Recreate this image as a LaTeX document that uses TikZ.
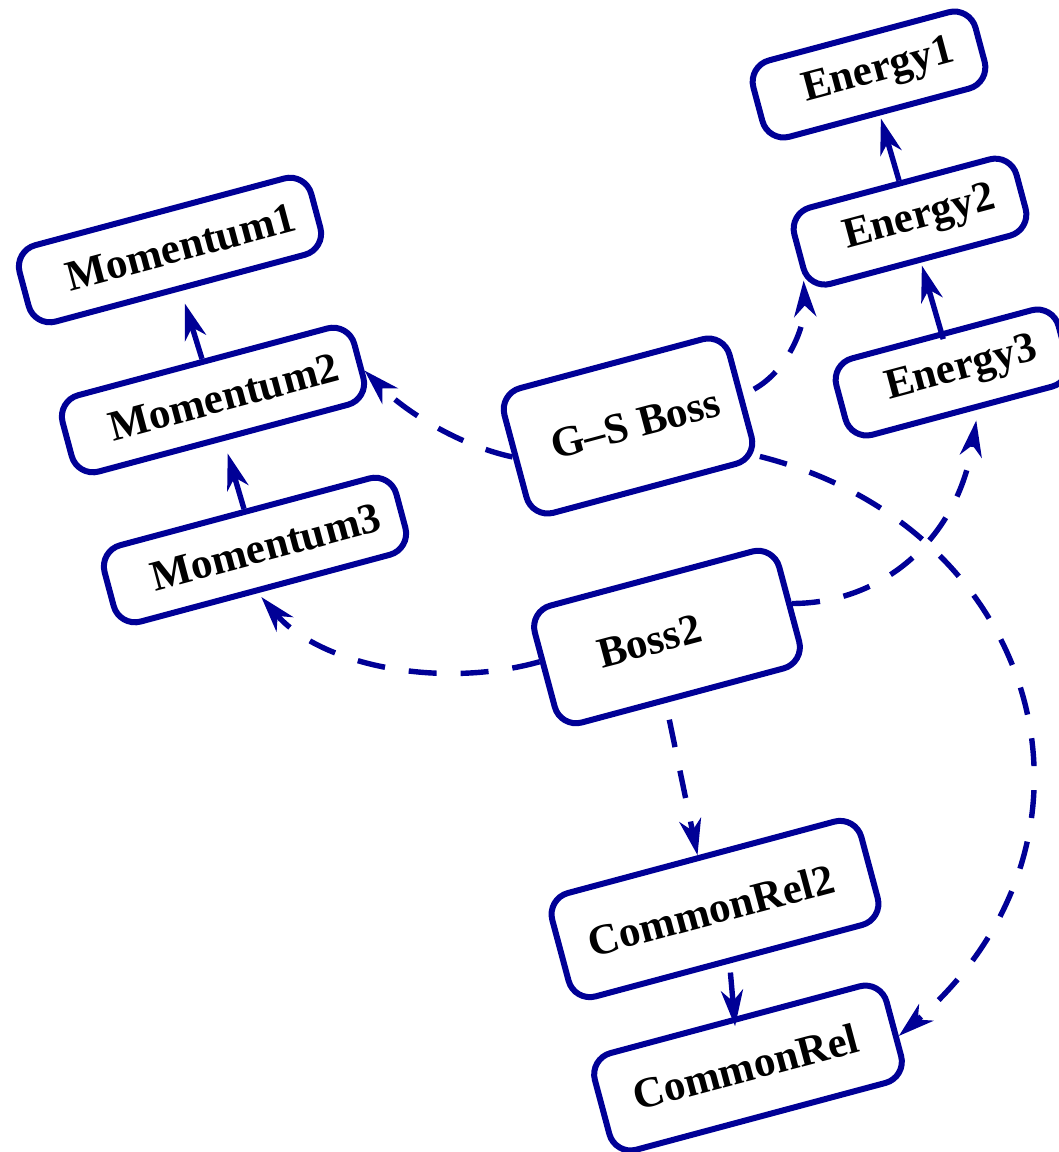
\documentclass[tikz,border=0pt]{standalone}
\usepackage{fontspec}
\setmainfont{Liberation Serif}
\usetikzlibrary{arrows.meta}
\definecolor{nb}{RGB}{0,0,150}
\newcommand{\bt}[3]{\makebox[0pt]{\hspace*{#1}\raisebox{-#2}{#3}}}
\begin{document}
\begin{tikzpicture}[x=0.5pt,y=-0.5pt,
  box/.style={draw=nb, line width=3pt, rounded corners=11pt, rotate=15, inner sep=0pt,
              font=\fontsize{21.5}{24}\selectfont\bfseries},
  mbox/.style={box, minimum width=151pt, minimum height=39.5pt},
  ebox/.style={box, minimum width=115pt, minimum height=39.5pt},
  tipst/.style={-{Stealth[length=18pt,width=11pt,inset=5.5pt]}},
  sarr/.style={draw=nb, line width=2.7pt, tipst},
  darr/.style={sarr, dash pattern=on 14pt off 12pt},
]
\useasboundingbox (0,0) rectangle (1059,1152);
% nodes
\node[mbox] (m1) at (170,250) {\bt{11pt}{6pt}{Momentum1}};
\node[mbox] (m2) at (213,400) {\bt{11pt}{6pt}{Momentum2}};
\node[mbox] (m3) at (255,550) {\bt{11pt}{6pt}{Momentum3}};
\node[ebox] (e1) at (869,74.5) {\bt{10pt}{5.6pt}{Energy1}};
\node[ebox] (e2) at (910,221.6) {\bt{10pt}{5.6pt}{Energy2}};
\node[ebox] (e3) at (952,372.5) {\bt{10pt}{5.6pt}{Energy3}};
\node[box, minimum width=116.5pt, minimum height=64.5pt] (gs) at (628,426) {\bt{8pt}{2pt}{G–S Boss}};
\node[box, minimum width=126.5pt, minimum height=60.5pt] (b2) at (667,637) {\bt{-18pt}{-1pt}{Boss2}};
\node[box, minimum width=160pt, minimum height=53.5pt] (cr2) at (715,909) {\bt{-4pt}{1pt}{CommonRel2}};
\node[box, minimum width=151pt, minimum height=50pt] (cr) at (748,1068) {\bt{-2pt}{-2pt}{CommonRel}};
% solid connectors
\draw[sarr, shorten >=6.5pt] (m2.north) -- (m1.south);
\draw[sarr, shorten >=6.5pt] (m3.north) -- (m2.south);
\draw[sarr, shorten >=1.5pt] (e2.north) -- (e1.south);
\draw[sarr, shorten >=1.5pt, shorten <=-4pt] (e3.north) -- (e2.south);
\draw[sarr, shorten <=4.5pt, shorten >=-4.75pt] (cr2.south) -- (cr.north);
% dashed connectors
\draw[darr] (gs.west) .. controls +(-48,-10) and +(45,45) .. (m2.-4);
\draw[darr, shorten <=6pt] (gs.east) .. controls +(45,-25) and +(2,45) .. (e2.194);
\draw[darr] (gs.-28) .. controls +(281,71) and +(230,-198) .. (cr.-3);
\draw[darr, shorten >=5.5pt] (b2.east) .. controls +(90,0) and +(-20,130) .. (e3.-70);
\draw[darr, shorten >=2.5pt] (b2.176) .. controls +(-100,28) and +(62,72) .. (m3.-101);
\draw[darr, shorten <=8.5pt] (b2.-106) -- (cr2.93);
\end{tikzpicture}
\end{document}
